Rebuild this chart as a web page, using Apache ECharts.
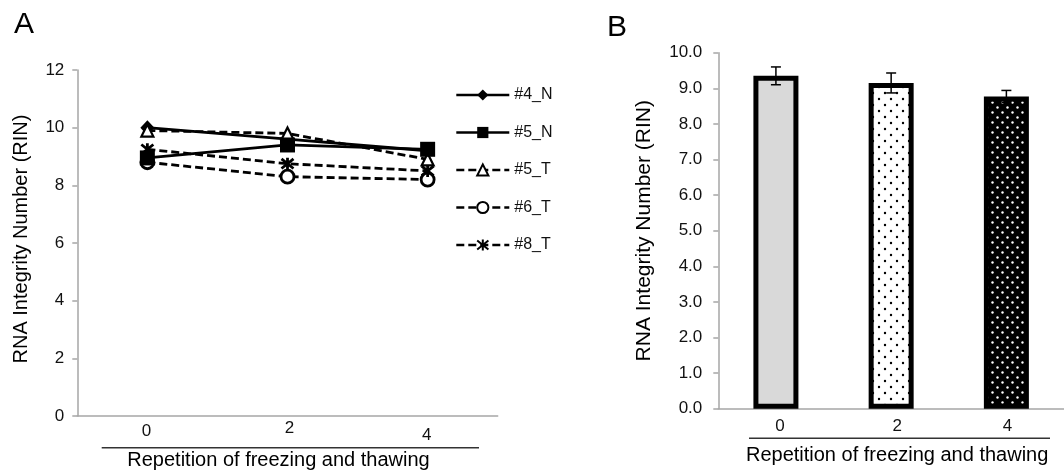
<!DOCTYPE html>
<html><head><meta charset="utf-8">
<script src="https://cdn.jsdelivr.net/npm/echarts@6/dist/echarts.min.js"></script>
<style>html,body{margin:0;padding:0;background:#fff}#c{width:1064px;height:475px}</style>
</head><body><div id="c"></div>
<script>
// ---- data: panel A ----
const categoriesA = ['0', '2', '4'];
const s4N = [10.0, 9.6, 9.2];
const s5N = [8.95, 9.4, 9.25];
const s5T = [9.9, 9.8, 8.9];
const s6T = [8.8, 8.3, 8.2];
const s8T = [9.25, 8.75, 8.5];
const namesA = ['#4_N', '#5_N', '#5_T', '#6_T', '#8_T'];
// ---- data: panel B ----
const categoriesB = ['0', '2', '4'];
const meanB = [9.35, 9.15, 8.77];
const errB = [0.25, 0.28, 0.17];
const axisTitleX = 'Repetition of freezing and thawing';
const axisTitleY = 'RNA Integrity Number (RIN)';

const FONT = "'Liberation Sans', Arial, sans-serif";
const AX = '#a6a6a6';
const TXT = '#111';

function dots(bg, fg, tile, r) {
  const c = document.createElement('canvas');
  c.width = tile; c.height = tile;
  const g = c.getContext('2d');
  g.fillStyle = bg; g.fillRect(0, 0, tile, tile);
  g.fillStyle = fg;
  const h = tile / 2;
  [[h / 2, h / 2], [h * 1.5, h * 1.5]].forEach(p => {
    g.beginPath(); g.arc(p[0], p[1], r, 0, Math.PI * 2); g.fill();
  });
  return c;
}
const fillsB = [
  '#d9d9d9',
  { image: dots('#ffffff', '#000000', 12, 1.2), repeat: 'repeat' },
  { image: dots('#000000', '#ffffff', 10, 1.2), repeat: 'repeat' }
];

const chart = echarts.init(document.getElementById('c'));
const lineBase = (name, data, symbol, size, fill, dashed, bw, z) => ({
  name, type: 'line', data, xAxisIndex: 0, yAxisIndex: 0,
  symbol, symbolSize: size, z,
  lineStyle: { color: '#000', width: 2.8, type: dashed ? [8, 4] : 'solid' },
  itemStyle: { color: fill, borderColor: '#000', borderWidth: bw },
  emphasis: { disabled: true }, animation: false
});

chart.setOption({
  animation: false,
  textStyle: { fontFamily: FONT },
  grid: [
    { left: 77.3, top: 70, width: 420.4, height: 350.7 },
    { left: 718.3, top: 52.7, width: 353, height: 356 }
  ],
  legend: {
    data: namesA, orient: 'vertical', left: 450, top: 82,
    itemWidth: 53, itemHeight: 14, itemGap: 21.5,
    lineStyle: { width: 2.6 },
    textStyle: { fontSize: 16, color: TXT, fontFamily: FONT },
    selectedMode: false
  },
  xAxis: [
    {
      type: 'category', gridIndex: 0, data: categoriesA, boundaryGap: true,
      axisLine: { lineStyle: { color: AX, width: 1.5 } },
      axisTick: { length: 5, lineStyle: { color: AX, width: 1.5 } },
      axisLabel: {
        margin: 4, color: TXT, fontSize: 17,
        formatter: v => '{l' + v + '|' + v + '}',
        rich: {
          l0: { fontSize: 17, color: TXT, padding: [3, 2, 0, 0] },
          l2: { fontSize: 17, color: TXT, padding: [0, 0, 0, 4] },
          l4: { fontSize: 17, color: TXT, padding: [7, 2, 0, 0] }
        }
      },
      name: axisTitleX, nameLocation: 'middle', nameGap: 34,
      nameTextStyle: { fontSize: 20, color: '#000', padding: [0, 18, 0, 0] }
    },
    {
      type: 'category', gridIndex: 1, data: categoriesB, boundaryGap: true,
      axisLine: { lineStyle: { color: AX, width: 1.5 } },
      axisTick: { length: 5, lineStyle: { color: AX, width: 1.5 } },
      axisLabel: {
        margin: 9, color: TXT, fontSize: 17,
        formatter: v => '{l' + v + '|' + v + '}',
        rich: {
          l0: { fontSize: 17, color: TXT, padding: [0, 0, 0, 8] },
          l2: { fontSize: 17, color: TXT, padding: [0, 0, 0, 12] },
          l4: { fontSize: 17, color: TXT, padding: [0, 0, 0, 2] }
        }
      },
      name: axisTitleX, nameLocation: 'middle', nameGap: 37,
      nameTextStyle: { fontSize: 20, color: '#000', padding: [0, 0, 0, 12] }
    }
  ],
  yAxis: [
    {
      type: 'value', gridIndex: 0, min: 0, max: 12, interval: 2,
      splitLine: { show: false },
      axisLine: { show: true, lineStyle: { color: AX, width: 1.5 } },
      axisTick: { show: true, length: 5, lineStyle: { color: AX, width: 1.5 } },
      axisLabel: { margin: 13, color: TXT, fontSize: 17 },
      name: axisTitleY, nameLocation: 'middle', nameGap: 46,
      nameTextStyle: { fontSize: 20, color: '#000', padding: [0, 0, 0, 8] }
    },
    {
      type: 'value', gridIndex: 1, min: 0, max: 10, interval: 1,
      splitLine: { show: false },
      axisLine: { show: true, lineStyle: { color: AX, width: 1.5 } },
      axisTick: { show: true, length: 5, lineStyle: { color: AX, width: 1.5 } },
      axisLabel: { margin: 16, color: TXT, fontSize: 17, formatter: v => v.toFixed(1) },
      name: axisTitleY, nameLocation: 'middle', nameGap: 64,
      nameTextStyle: { fontSize: 21, color: '#000' }
    }
  ],
  series: [
    lineBase('#4_N', s4N, 'diamond', [14, 15], '#000', false, 0, 3),
    lineBase('#5_N', s5N, 'rect', 15, '#000', false, 0, 5),
    lineBase('#5_T', s5T, 'triangle', 12, '#fff', true, 2.2, 3),
    lineBase('#6_T', s6T, 'circle', 13, '#fff', true, 2.8, 3),
    lineBase('#8_T', s8T, 'path://M0,1L10,9M10,1L0,9M5,0L5,10', 12, '#000', true, 2.8, 3),
    {
      type: 'bar', xAxisIndex: 1, yAxisIndex: 1, barWidth: 45,
      data: meanB.map((v, i) => ({ value: v, itemStyle: { color: fillsB[i] } })),
      itemStyle: { borderColor: '#000', borderWidth: 5 },
      emphasis: { disabled: true }, z: 2
    },
    {
      type: 'custom', xAxisIndex: 1, yAxisIndex: 1, z: 4,
      data: meanB.map((v, i) => [i, v, errB[i]]),
      renderItem: (params, api) => {
        const x = api.value(0), m = api.value(1), e = api.value(2);
        const t = api.coord([x, m + e]), b = api.coord([x, m - e]);
        const w = 5, st = { stroke: '#000', lineWidth: 1.5 };
        return { type: 'group', children: [
          { type: 'line', shape: { x1: t[0], y1: t[1], x2: b[0], y2: b[1] }, style: st },
          { type: 'line', shape: { x1: t[0] - w, y1: t[1], x2: t[0] + w, y2: t[1] }, style: st },
          { type: 'line', shape: { x1: b[0] - w, y1: b[1], x2: b[0] + w, y2: b[1] }, style: st }
        ] };
      }
    }
  ],
  graphic: [
    { type: 'text', left: 14, top: 10, style: { text: 'A', font: '30px ' + FONT, fill: '#000' } },
    { type: 'text', left: 607, top: 13, style: { text: 'B', font: '30px ' + FONT, fill: '#000' } },
    { type: 'line', shape: { x1: 101.7, y1: 447.7, x2: 479, y2: 447.7 }, style: { stroke: '#333', lineWidth: 1.5 } },
    { type: 'line', shape: { x1: 749, y1: 438.3, x2: 1050, y2: 438.3 }, style: { stroke: '#333', lineWidth: 1.5 } }
  ]
});
</script></body></html>
